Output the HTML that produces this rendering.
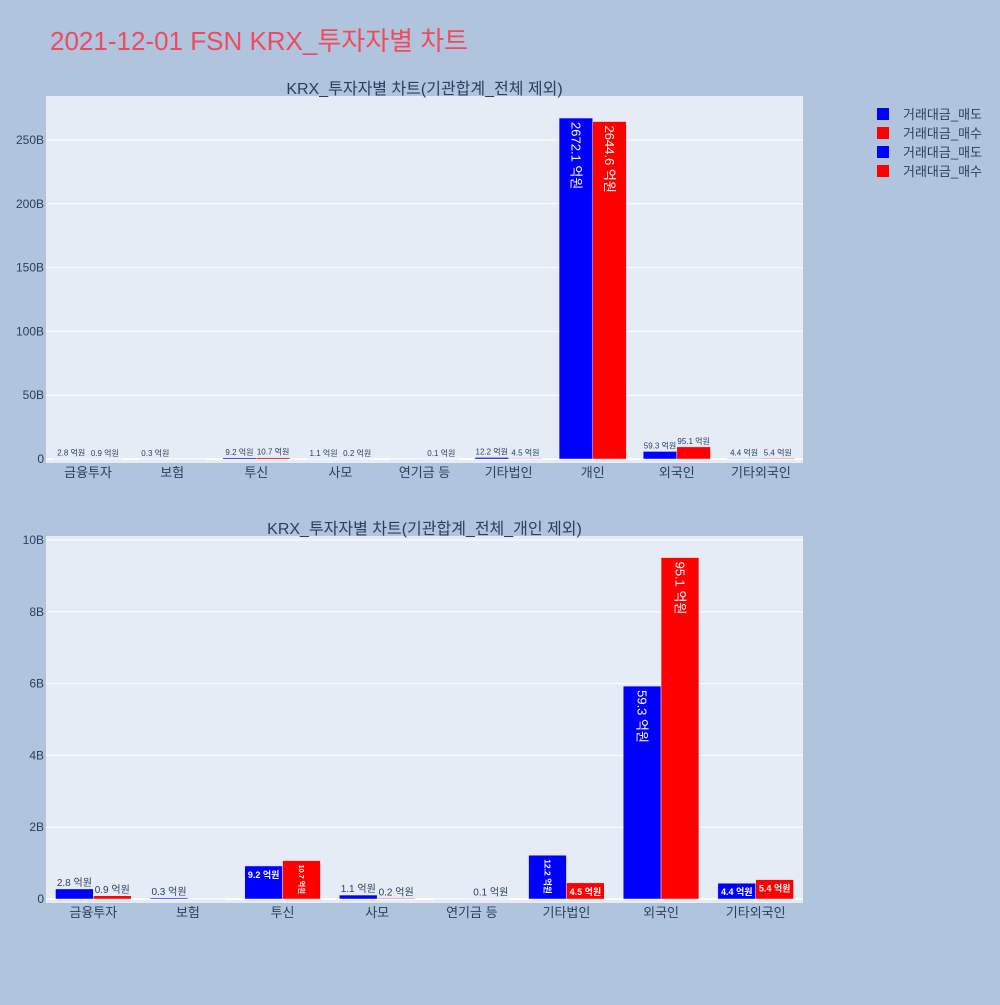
<!DOCTYPE html>
<html><head><meta charset="utf-8"><style>
body{margin:0;background:#b0c4de;font-family:"Liberation Sans","Noto Sans CJK KR",sans-serif;}
svg text{font-family:"Liberation Sans","Noto Sans CJK KR",sans-serif;}
</style></head><body>
<svg id="c" width="1000" height="1000" xmlns="http://www.w3.org/2000/svg">
<rect width="1000" height="1000" fill="#b0c4de"/>
<text x="50" y="50" font-size="26" fill="#ef4a5e">2021-12-01 FSN KRX_투자자별 차트</text>
<g>
<rect x="877" y="108" width="12" height="12" fill="#0000ff"/><text x="903" y="119" font-size="13" fill="#2a3f5f">거래대금_매도</text>
<rect x="877" y="127" width="12" height="12" fill="#ff0000"/><text x="903" y="138" font-size="13" fill="#2a3f5f">거래대금_매수</text>
<rect x="877" y="146" width="12" height="12" fill="#0000ff"/><text x="903" y="157" font-size="13" fill="#2a3f5f">거래대금_매도</text>
<rect x="877" y="165" width="12" height="12" fill="#ff0000"/><text x="903" y="176" font-size="13" fill="#2a3f5f">거래대금_매수</text>
</g>
</svg>
<script>
const categories1=["금융투자","보험","투신","사모","연기금 등","기타법인","개인","외국인","기타외국인"];
const sell1=[2.8,0.3,9.2,1.1,0,12.2,2672.1,59.3,4.4];
const buy1=[0.9,0,10.7,0.2,0.1,4.5,2644.6,95.1,5.4];
const ticks1=[0,50,100,150,200,250];
const categories2=["금융투자","보험","투신","사모","연기금 등","기타법인","외국인","기타외국인"];
const sell2=[2.8,0.3,9.2,1.1,0,12.2,59.3,4.4];
const buy2=[0.9,0,10.7,0.2,0.1,4.5,95.1,5.4];
const ticks2=[0,2,4,6,8,10];
const NS="http://www.w3.org/2000/svg";
const svg=document.getElementById('c');
function mk(tag,attrs,parent){const e=document.createElementNS(NS,tag);for(const k in attrs)e.setAttribute(k,attrs[k]);(parent||svg).appendChild(e);return e;}
function fmt(v){return v.toFixed(1)+" 억원";}
function plot(o){
  const g=mk('g',{});
  
  
  const bg=mk('rect',{x:o.x0,y:o.y0,width:o.x1-o.x0,height:o.y1-o.y0,fill:'#e5ecf6'},g);
  
  
  const yS=v=>o.zeroY-(v/10)/o.max*(o.zeroY-o.topY);
  o.ticks.forEach(t=>{
    const y=o.zeroY-t/o.max*(o.zeroY-o.topY);
    const gl=mk('line',{x1:o.x0,x2:o.x1,y1:y,y2:y,stroke:'#fff','stroke-width':t===0?2:1},g);
    
    
    const tl=mk('text',{x:o.x0-2,y:y+4,'font-size':12,fill:'#2a3f5f','text-anchor':'end'},g);
    
    
    tl.textContent=t===0?'0':t+'B';
  });
  const n=o.cats.length,cw=(o.x1-o.x0)/n,bw=cw*0.4;
  o.cats.forEach((c,i)=>{
    const cx=o.x0+cw*(i+0.5);
    const xl=mk('text',{x:cx,y:o.y1+14,'font-size':13,fill:'#2a3f5f','text-anchor':'middle'},g);
    
    
    xl.textContent=c;
    [[o.sell[i],'#0000ff',cx-bw,'bar-sell'],[o.buy[i],'#ff0000',cx,'bar-buy']].forEach(([v,col,bx,nm])=>{
      const y=yS(v),h=o.zeroY-y;
      const r=mk('rect',{x:bx,y:y,width:bw,height:Math.max(h,0.5),fill:col,stroke:'#e5ecf6','stroke-width':0.5},g);
      
      
      if(v<=0)return;
      const txt=fmt(v);
      const small=o.small;
      let fs=small,tw=txt.length*fs*0.55;
      let t;
      if(h>=14){
        if(tw<=bw-4 && h<40){
          t=mk('text',{x:bx+bw/2,y:y+fs+3,'font-size':fs,fill:'#fff','font-weight':'bold','text-anchor':'middle'},g);
        }else{
          let fz=Math.min(o.big,Math.max(7,(h-8)/txt.length/0.6));
          if(h>200)fz=o.big;
          t=mk('text',{x:bx+bw/2-fz*0.35,y:y+4,'font-size':fz,fill:'#fff','font-weight':fz<10?'bold':'normal',transform:`rotate(90 ${bx+bw/2-fz*0.35} ${y+4})`},g);
        }
      }else{
        t=mk('text',{x:bx+bw/2,y:y-3,'font-size':o.out,fill:'#2a3f5f','text-anchor':'middle'},g);
      }
      
      
      t.textContent=txt;
    });
  });
  const tt=mk('text',{x:(o.x0+o.x1)/2,y:o.y0-2,'font-size':16,fill:'#2a3f5f','text-anchor':'middle'},g);
  
  
  tt.textContent=o.title;
}
plot({name:'chart-top',x0:46,x1:803,y0:96,y1:463,zeroY:459,topY:140,max:250,ticks:ticks1,cats:categories1,sell:sell1,buy:buy1,title:'KRX_투자자별 차트(기관합계_전체 제외)',small:8,big:13,out:8});
plot({name:'chart-bottom',x0:46,x1:803,y0:536,y1:903,zeroY:899,topY:540,max:10,ticks:ticks2,cats:categories2,sell:sell2,buy:buy2,title:'KRX_투자자별 차트(기관합계_전체_개인 제외)',small:9,big:13,out:10});
</script>
</body></html>
